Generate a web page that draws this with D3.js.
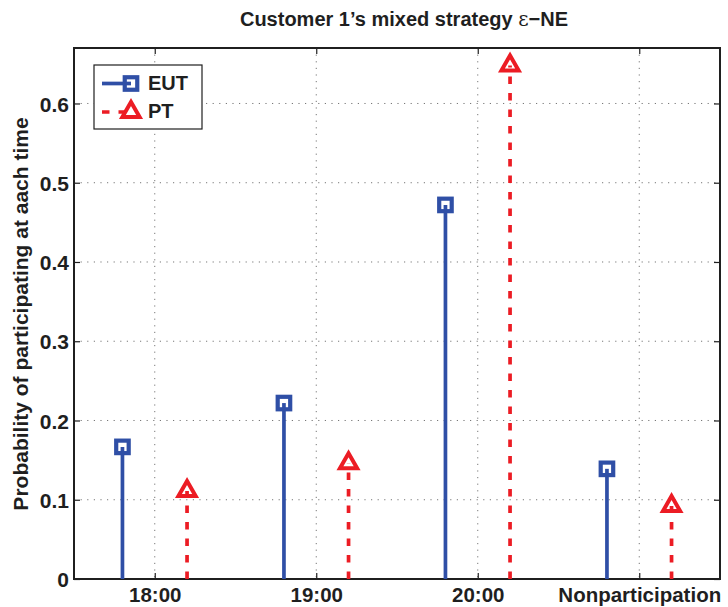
<!DOCTYPE html>
<html><head><meta charset="utf-8">
<script src="https://cdn.jsdelivr.net/npm/d3@7"></script>
<style>body{margin:0;background:#fff}svg{display:block;font-family:"Liberation Sans",Arial,sans-serif}</style>
</head><body><svg id="c" width="728" height="607"></svg>
<script>
const categories = ["18:00", "19:00", "20:00", "Nonparticipation"];
const eutValues = [0.1667, 0.222, 0.472, 0.139];
const ptValues = [0.111, 0.146, 0.648, 0.092];
const yTicks = [0, 0.1, 0.2, 0.3, 0.4, 0.5, 0.6];
const seriesNames = ["EUT", "PT"];

const svg = d3.select("#c");
const L = 74, R = 720, T = 48, B = 579;
const blue = "#2f4fa6", red = "#ec1c24", ink = "#1f1f1f";
const x = d3.scaleLinear().domain([0.5, 4.5]).range([L, R]);
const y = d3.scaleLinear().domain([0, 0.67]).range([B, T]);

// grid
const g = svg.append("g");
g.selectAll(".gy").data(yTicks.filter(d => d > 0)).enter().append("line")
  .attr("x1", L).attr("x2", R).attr("y1", d => y(d)).attr("y2", d => y(d))
  .attr("stroke", "#777").attr("stroke-width", 1).attr("stroke-dasharray", "1.2,5.4");
g.selectAll(".gx").data(categories).enter().append("line")
  .attr("x1", (d, i) => x(i + 1)).attr("x2", (d, i) => x(i + 1)).attr("y1", T).attr("y2", B)
  .attr("stroke", "#777").attr("stroke-width", 1).attr("stroke-dasharray", "1.2,5.4");

// axes with inward ticks
const ax = d3.axisBottom(x).tickValues([1, 2, 3, 4]).tickFormat((d) => categories[d - 1]).tickSizeInner(-6).tickSizeOuter(0).tickPadding(8);
const ay = d3.axisLeft(y).tickValues(yTicks).tickFormat(d => d === 0 ? "0" : d3.format(".1f")(d)).tickSizeInner(-6).tickSizeOuter(0).tickPadding(5);
const gx = svg.append("g").attr("transform", `translate(0,${B})`).call(ax);
const gy = svg.append("g").attr("transform", `translate(${L},0)`).call(ay);
const axTop = d3.axisTop(x).tickValues([1, 2, 3, 4]).tickFormat("").tickSizeInner(-6).tickSizeOuter(0);
const ayRight = d3.axisRight(y).tickValues(yTicks).tickFormat("").tickSizeInner(-6).tickSizeOuter(0);
svg.append("g").attr("transform", `translate(0,${T})`).call(axTop);
svg.append("g").attr("transform", `translate(${R},0)`).call(ayRight);
svg.selectAll(".domain").remove();
svg.selectAll(".tick line").attr("stroke", ink).attr("stroke-width", 1.2);
svg.selectAll(".tick text").attr("font-size", 21).attr("font-weight", "bold").attr("fill", ink)
  .attr("font-family", '"Liberation Sans",Arial,sans-serif');
gy.selectAll(".tick text").attr("dy", "0.36em");
gx.selectAll(".tick text").attr("font-size", 20.5);
// box
svg.append("rect").attr("x", L).attr("y", T).attr("width", R - L).attr("height", B - T)
  .attr("fill", "none").attr("stroke", ink).attr("stroke-width", 2);

// stems
const off = 0.2;
const dash = "7.5,9";
svg.selectAll(".se").data(eutValues).enter().append("line")
  .attr("x1", (d, i) => x(i + 1 - off)).attr("x2", (d, i) => x(i + 1 - off))
  .attr("y1", y(0)).attr("y2", d => y(d)).attr("stroke", blue).attr("stroke-width", 3.7);
svg.selectAll(".sp").data(ptValues).enter().append("line")
  .attr("x1", (d, i) => x(i + 1 + off)).attr("x2", (d, i) => x(i + 1 + off))
  .attr("y1", y(0)).attr("y2", d => y(d)).attr("stroke", red).attr("stroke-width", 3.7)
  .attr("stroke-dasharray", dash);

const sq = 12.5;
function square(sel, cx, cy) {
  sel.append("rect").attr("x", cx - sq / 2).attr("y", cy - sq / 2).attr("width", sq).attr("height", sq)
    .attr("fill", "none").attr("stroke", blue).attr("stroke-width", 4.2);
}
function triangle(sel, cx, cy) {
  const p = [[cx, cy - 10], [cx + 8.6, cy + 5], [cx - 8.6, cy + 5]];
  sel.append("path").attr("d", "M" + p.map(q => q.join(",")).join("L") + "Z")
    .attr("fill", "none").attr("stroke", red).attr("stroke-width", 4).attr("stroke-linejoin", "miter");
}
eutValues.forEach((d, i) => square(svg, x(i + 1 - off), y(d)));
ptValues.forEach((d, i) => triangle(svg, x(i + 1 + off), y(d)));

// legend
const lg = svg.append("g");
lg.append("rect").attr("x", 94).attr("y", 65).attr("width", 108).attr("height", 64)
  .attr("fill", "#fff").attr("stroke", ink).attr("stroke-width", 1.2);
const ly = [83.5, 112];
lg.append("line").attr("x1", 102).attr("x2", 131).attr("y1", ly[0]).attr("y2", ly[0]).attr("stroke", blue).attr("stroke-width", 3.7);
square(lg, 131, ly[0]);
lg.append("line").attr("x1", 102).attr("x2", 131).attr("y1", ly[1]).attr("y2", ly[1]).attr("stroke", red).attr("stroke-width", 3.7).attr("stroke-dasharray", dash);
triangle(lg, 131, ly[1]);
lg.selectAll(".lt").data(seriesNames).enter().append("text")
  .attr("x", 148).attr("y", (d, i) => [83, 111][i]).attr("dy", "0.36em")
  .attr("font-size", 20).attr("font-weight", "bold").attr("fill", ink).text(d => d);

// title
const t = svg.append("text").attr("x", 404).attr("y", 26).attr("text-anchor", "middle")
  .attr("font-size", 20).attr("font-weight", "bold").attr("fill", ink);
t.append("tspan").text("Customer 1\u2019s mixed strategy ");
t.append("tspan").attr("font-weight", "normal").attr("font-family", '"DejaVu Serif",serif').text("\u03b5");
t.append("tspan").text("\u2212NE");

// y label
svg.append("text").attr("transform", `translate(28,${(110 + 518) / 2}) rotate(-90)`).attr("text-anchor", "middle")
  .attr("font-size", 21).attr("font-weight", "bold").attr("fill", ink)
  .text("Probability of participating at aach time");
</script></body></html>
